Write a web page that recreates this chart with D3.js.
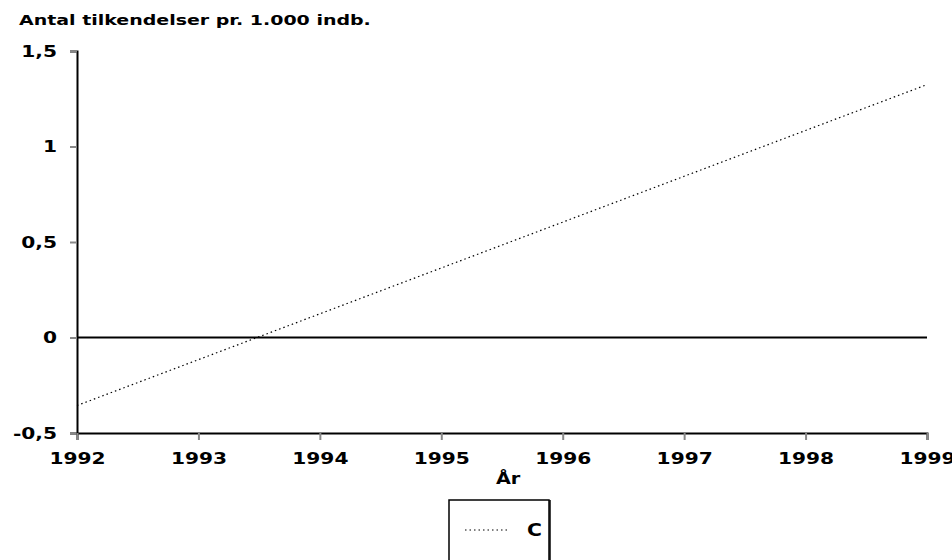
<!DOCTYPE html>
<html lang="da">
<head>
<meta charset="UTF-8">
<title>Antal tilkendelser</title>
<script src="https://d3js.org/d3.v7.min.js"></script>
<style>
    body { margin: 0; background: #fff; }
    svg { display: block; font-family: 'DejaVu Sans', Verdana, sans-serif; font-weight: bold; }
    .axis .tick line { stroke: #888; stroke-width: 2; }
    .axis .domain { stroke: #000; stroke-width: 2; }
</style>
</head>
<body>
<svg width="952" height="560"></svg>
<script>
    const years = [1992, 1993, 1994, 1995, 1996, 1997, 1998, 1999];
    const valuesC = [-0.356, -0.116, 0.124, 0.364, 0.604, 0.844, 1.084, 1.324];
    const yTicks = [-0.5, 0, 0.5, 1, 1.5];
    const yTickLabels = ["-0,5", "0", "0,5", "1", "1,5"];

    const margin = { top: 51, right: 25, bottom: 127, left: 77 };
    const width = 952 - margin.left - margin.right;
    const height = 560 - margin.top - margin.bottom;

    const svg = d3.select("svg");
    const g = svg.append("g").attr("transform", `translate(${margin.left},${margin.top})`);

    const x = d3.scaleLinear().domain([1992, 1999]).range([0, width]);
    const y = d3.scaleLinear().domain([-0.5, 1.5]).range([height, 0]);

    // wide bold look: stretch text horizontally
    function widen(sel, k) {
        sel.each(function () {
            const w = this.getComputedTextLength();
            d3.select(this).attr("textLength", w * k).attr("lengthAdjust", "spacingAndGlyphs");
        });
    }

    // y axis
    const yAxis = g.append("g").attr("class", "axis")
        .call(d3.axisLeft(y).tickValues(yTicks).tickFormat((d, i) => yTickLabels[i]).tickSizeOuter(0).tickSize(7).tickPadding(13));
    yAxis.selectAll("text").attr("font-size", 16).attr("font-weight", "bold").attr("fill", "#000")
        .attr("font-family", "'DejaVu Sans', Verdana, sans-serif")
        .call(widen, 1.26);

    // x axis
    const xAxis = g.append("g").attr("class", "axis")
        .attr("transform", `translate(0,${height})`)
        .call(d3.axisBottom(x).tickValues(years).tickFormat(d3.format("d")).tickSizeOuter(0).tickSize(7).tickPadding(13));
    xAxis.selectAll("text").attr("font-size", 16).attr("font-weight", "bold").attr("fill", "#000")
        .attr("font-family", "'DejaVu Sans', Verdana, sans-serif")
        .call(widen, 1.26);

    // zero line
    g.append("line")
        .attr("x1", 0).attr("x2", width)
        .attr("y1", y(0)).attr("y2", y(0))
        .attr("stroke", "#000").attr("stroke-width", 2);

    // series C
    const line = d3.line().x((d, i) => x(years[i])).y(d => y(d));
    g.append("path")
        .datum(valuesC)
        .attr("fill", "none")
        .attr("stroke", "#000")
        .attr("stroke-width", 1.2)
        .attr("stroke-dasharray", "1.5,3")
        .attr("d", line);

    // title
    svg.append("text")
        .attr("x", 19).attr("y", 25)
        .attr("font-size", "14px")
        .text("Antal tilkendelser pr. 1.000 indb.")
        .call(widen, 1.355);

    // x label
    svg.append("text")
        .attr("x", 496).attr("y", 484)
        .attr("font-size", "16px")
        .text("År")
        .call(widen, 1.2);

    // legend
    const lg = svg.append("g").attr("transform", "translate(449,500)");
    lg.append("rect").attr("x", 2).attr("y", 0).attr("width", 100).attr("height", 70)
        .attr("fill", "#444");
    lg.append("rect").attr("x", 0).attr("y", 0).attr("width", 100).attr("height", 70)
        .attr("fill", "#fff").attr("stroke", "#000").attr("stroke-width", 1.5);
    lg.append("line").attr("x1", 16).attr("x2", 61).attr("y1", 30).attr("y2", 30)
        .attr("stroke", "#000").attr("stroke-width", 1.2).attr("stroke-dasharray", "1.5,3");
    lg.append("text").attr("x", 78).attr("y", 36).attr("font-size", "17px").text("C")
        .call(widen, 1.2);
</script>
</body>
</html>
